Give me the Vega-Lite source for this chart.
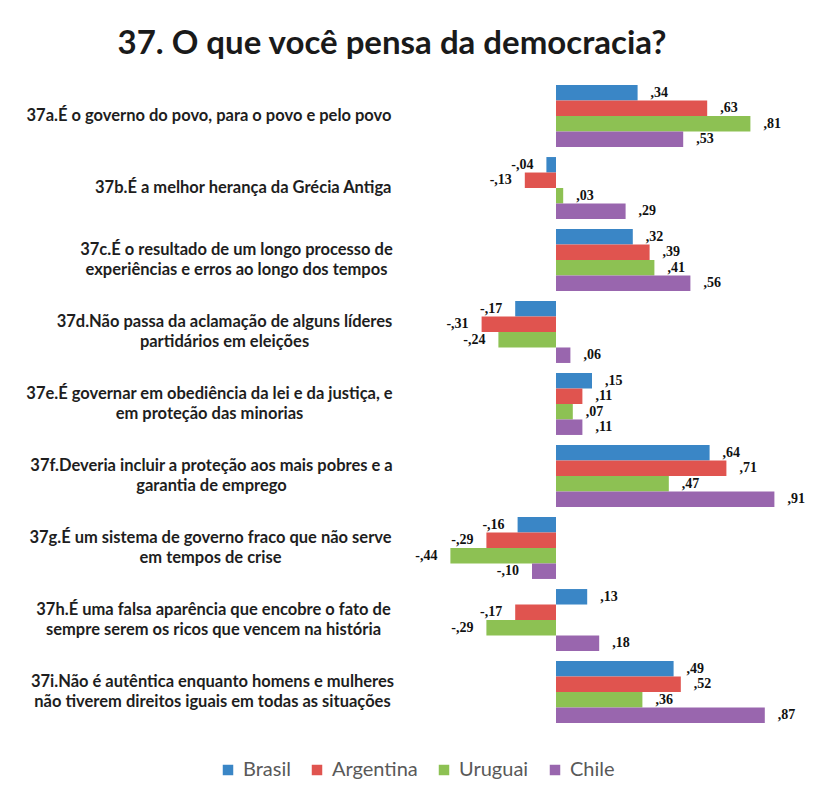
{
  "$schema": "https://vega.github.io/schema/vega-lite/v6.json",
  "width": 390,
  "height": 648,
  "autosize": "none",
  "padding": {"left": 400, "top": 80, "right": 29, "bottom": 66},
  "background": "white",
  "title": {
    "text": "37. O que você pensa da democracia?",
    "font": "Lato",
    "fontSize": 33,
    "fontWeight": "bold",
    "color": "#1a1a1a",
    "anchor": "middle",
    "dx": -203,
    "baseline": "alphabetic",
    "offset": -7
  },
  "config": {
    "view": {"stroke": null},
    "font": "Lato"
  },
  "data": {
    "values": [
      {"cat": "37a.É o governo do povo, para o povo e pelo povo", "pais": "Brasil", "v": 0.34},
      {"cat": "37a.É o governo do povo, para o povo e pelo povo", "pais": "Argentina", "v": 0.63},
      {"cat": "37a.É o governo do povo, para o povo e pelo povo", "pais": "Uruguai", "v": 0.81},
      {"cat": "37a.É o governo do povo, para o povo e pelo povo", "pais": "Chile", "v": 0.53},
      {"cat": "37b.É a melhor herança da Grécia Antiga", "pais": "Brasil", "v": -0.04},
      {"cat": "37b.É a melhor herança da Grécia Antiga", "pais": "Argentina", "v": -0.13},
      {"cat": "37b.É a melhor herança da Grécia Antiga", "pais": "Uruguai", "v": 0.03},
      {"cat": "37b.É a melhor herança da Grécia Antiga", "pais": "Chile", "v": 0.29},
      {"cat": "37c.É o resultado de um longo processo de|experiências e erros ao longo dos tempos", "pais": "Brasil", "v": 0.32},
      {"cat": "37c.É o resultado de um longo processo de|experiências e erros ao longo dos tempos", "pais": "Argentina", "v": 0.39},
      {"cat": "37c.É o resultado de um longo processo de|experiências e erros ao longo dos tempos", "pais": "Uruguai", "v": 0.41},
      {"cat": "37c.É o resultado de um longo processo de|experiências e erros ao longo dos tempos", "pais": "Chile", "v": 0.56},
      {"cat": "37d.Não passa da aclamação de alguns líderes|partidários em eleições", "pais": "Brasil", "v": -0.17},
      {"cat": "37d.Não passa da aclamação de alguns líderes|partidários em eleições", "pais": "Argentina", "v": -0.31},
      {"cat": "37d.Não passa da aclamação de alguns líderes|partidários em eleições", "pais": "Uruguai", "v": -0.24},
      {"cat": "37d.Não passa da aclamação de alguns líderes|partidários em eleições", "pais": "Chile", "v": 0.06},
      {"cat": "37e.É governar em obediência da lei e da justiça, e|em proteção das minorias", "pais": "Brasil", "v": 0.15},
      {"cat": "37e.É governar em obediência da lei e da justiça, e|em proteção das minorias", "pais": "Argentina", "v": 0.11},
      {"cat": "37e.É governar em obediência da lei e da justiça, e|em proteção das minorias", "pais": "Uruguai", "v": 0.07},
      {"cat": "37e.É governar em obediência da lei e da justiça, e|em proteção das minorias", "pais": "Chile", "v": 0.11},
      {"cat": "37f.Deveria incluir a proteção aos mais pobres e a|garantia de emprego", "pais": "Brasil", "v": 0.64},
      {"cat": "37f.Deveria incluir a proteção aos mais pobres e a|garantia de emprego", "pais": "Argentina", "v": 0.71},
      {"cat": "37f.Deveria incluir a proteção aos mais pobres e a|garantia de emprego", "pais": "Uruguai", "v": 0.47},
      {"cat": "37f.Deveria incluir a proteção aos mais pobres e a|garantia de emprego", "pais": "Chile", "v": 0.91},
      {"cat": "37g.É um sistema de governo fraco que não serve|em tempos de crise", "pais": "Brasil", "v": -0.16},
      {"cat": "37g.É um sistema de governo fraco que não serve|em tempos de crise", "pais": "Argentina", "v": -0.29},
      {"cat": "37g.É um sistema de governo fraco que não serve|em tempos de crise", "pais": "Uruguai", "v": -0.44},
      {"cat": "37g.É um sistema de governo fraco que não serve|em tempos de crise", "pais": "Chile", "v": -0.10},
      {"cat": "37h.É uma falsa aparência que encobre o fato de|sempre serem os ricos que vencem na história", "pais": "Brasil", "v": 0.13},
      {"cat": "37h.É uma falsa aparência que encobre o fato de|sempre serem os ricos que vencem na história", "pais": "Argentina", "v": -0.17},
      {"cat": "37h.É uma falsa aparência que encobre o fato de|sempre serem os ricos que vencem na história", "pais": "Uruguai", "v": -0.29},
      {"cat": "37h.É uma falsa aparência que encobre o fato de|sempre serem os ricos que vencem na história", "pais": "Chile", "v": 0.18},
      {"cat": "37i.Não é autêntica enquanto homens e mulheres|não tiverem direitos iguais em todas as situações", "pais": "Brasil", "v": 0.49},
      {"cat": "37i.Não é autêntica enquanto homens e mulheres|não tiverem direitos iguais em todas as situações", "pais": "Argentina", "v": 0.52},
      {"cat": "37i.Não é autêntica enquanto homens e mulheres|não tiverem direitos iguais em todas as situações", "pais": "Uruguai", "v": 0.36},
      {"cat": "37i.Não é autêntica enquanto homens e mulheres|não tiverem direitos iguais em todas as situações", "pais": "Chile", "v": 0.87}
    ]
  },
  "transform": [
    {"calculate": "(datum.v < 0 ? '-' : '') + replace(format(abs(datum.v), '.2f'), '0.', ',')", "as": "lbl"}
  ],
  "encoding": {
    "y": {
      "field": "cat",
      "type": "nominal",
      "sort": null,
      "scale": {"paddingInner": 0.14, "paddingOuter": 0.07},
      "axis": {
        "title": null,
        "domain": false,
        "ticks": false,
        "labelExpr": "split(datum.value, '|')",
        "labelAlign": {"condition": {"test": "indexof(datum.value, '|') >= 0", "value": "center"}, "value": "right"},
        "labelBaseline": "middle",
        "labelOffset": {"condition": {"test": "indexof(datum.value, '|') >= 0", "value": -10}, "value": 0},
        "labelPadding": {
          "condition": [
            {"test": "indexof(datum.value, '37c.') == 0", "value": 164},
            {"test": "indexof(datum.value, '37d.') == 0", "value": 176},
            {"test": "indexof(datum.value, '37e.') == 0", "value": 191},
            {"test": "indexof(datum.value, '37f.') == 0", "value": 189},
            {"test": "indexof(datum.value, '37g.') == 0", "value": 190},
            {"test": "indexof(datum.value, '37h.') == 0", "value": 187},
            {"test": "indexof(datum.value, '37i.') == 0", "value": 188}
          ],
          "value": 9
        },
        "labelFont": "Lato",
        "labelFontSize": 16.5,
        "labelFontWeight": "bold",
        "labelColor": "#1e1e1e",
        "labelLineHeight": 20,
        "labelLimit": 420
      }
    }
  },
  "layer": [
    {
      "mark": {"type": "bar"},
      "encoding": {
        "x": {
          "field": "v",
          "type": "quantitative",
          "scale": {"domain": [-0.65, 0.975], "nice": false, "zero": false},
          "axis": null
        },
        "yOffset": {
          "field": "pais",
          "type": "nominal",
          "sort": ["Brasil", "Argentina", "Uruguai", "Chile"],
          "scale": {"paddingInner": 0, "paddingOuter": 0}
        },
        "color": {
          "field": "pais",
          "type": "nominal",
          "sort": ["Brasil", "Argentina", "Uruguai", "Chile"],
          "scale": {
            "domain": ["Brasil", "Argentina", "Uruguai", "Chile"],
            "range": ["#3A86C6", "#E0544F", "#8DC153", "#9966AE"]
          },
          "legend": {
            "title": null,
            "orient": "none",
            "direction": "horizontal",
            "legendX": -182,
            "legendY": 680,
            "symbolType": "square",
            "symbolSize": 110,
            "symbolStrokeWidth": 0,
            "labelFont": "Lato",
            "labelFontSize": 20,
            "labelColor": "#595959",
            "labelOffset": 5,
            "columnPadding": 16
          }
        }
      }
    },
    {
      "mark": {"type": "rule", "color": "#8a8a8a", "strokeWidth": 1},
      "encoding": {
        "x": {"datum": 0, "type": "quantitative"}
      }
    },
    {
      "transform": [{"filter": "datum.v >= 0"}],
      "mark": {"type": "text", "align": "left", "baseline": "middle", "dx": 13, "font": "Liberation Serif", "fontWeight": "bold", "fontSize": 14, "color": "#111111"},
      "encoding": {
        "x": {"field": "v", "type": "quantitative"},
        "yOffset": {"field": "pais", "type": "nominal", "sort": ["Brasil", "Argentina", "Uruguai", "Chile"]},
        "text": {"field": "lbl"}
      }
    },
    {
      "transform": [{"filter": "datum.v < 0"}],
      "mark": {"type": "text", "align": "right", "baseline": "middle", "dx": -13, "font": "Liberation Serif", "fontWeight": "bold", "fontSize": 14, "color": "#111111"},
      "encoding": {
        "x": {"field": "v", "type": "quantitative"},
        "yOffset": {"field": "pais", "type": "nominal", "sort": ["Brasil", "Argentina", "Uruguai", "Chile"]},
        "text": {"field": "lbl"}
      }
    }
  ]
}
